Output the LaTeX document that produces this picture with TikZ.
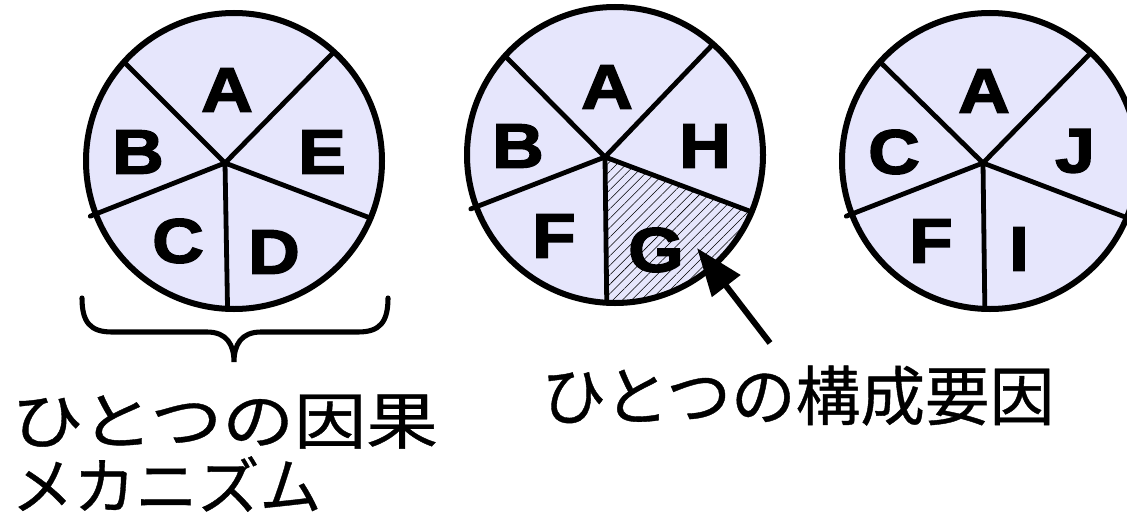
\documentclass[tikz,border=0pt]{standalone}
\usepackage{fontspec}
\usetikzlibrary{calc,arrows.meta,patterns.meta}

\newfontfamily\piefont{Liberation Sans}[FakeStretch=1.14,FakeBold=2.5]
\newfontfamily\jpfont{Noto Sans CJK JP}[FakeBold=0.6]
\newfontfamily\jpwidefont{Noto Sans CJK JP}[FakeStretch=1.16,FakeBold=0.6]
\definecolor{piefill}{RGB}{230,230,252}

\tikzset{every picture/.style={line width=0.75pt}}
\tikzset{
	rim/.style={line width=4.5pt},
	spoke/.style={line width=3.6pt, line cap=round},
	brace/.style={line width=3.8pt, line cap=round},
	pointer/.style={line width=4.5pt, -{Triangle[length=36pt,width=26pt]}},
	pielabel/.style={inner sep=0pt, font=\piefont\bfseries\fontsize{47}{47}\selectfont},
	causetext/.style={inner sep=0pt, align=left, font=\jpwidefont\fontsize{46.5}{49}\selectfont},
	parttext/.style={inner sep=0pt, font=\jpfont\fontsize{48.5}{50}\selectfont}
}

\begin{document}
\begin{tikzpicture}[x=0.75pt,y=0.75pt,yscale=-1,xscale=1]
	\useasboundingbox (0,0) rectangle (1127,517);
	\clip (0,0) rectangle (1127,517);

	\coordinate (c1) at (234,161);
	\coordinate (h1) at (225,163);
	\coordinate (c2) at (615,155);
	\coordinate (h2) at (605,157);
	\coordinate (c3) at (990,161);
	\coordinate (h3) at (983,163);

	\fill[piefill] (c1) circle (148);
	\fill[piefill] (c2) circle (148);
	\fill[piefill] (c3) circle (148);

	\fill[pattern={Lines[angle=45,distance=5pt,line width=0.4pt]}] (h2) -- ($(c2)+(22.6:148)$) arc[start angle=22.6, end angle=93.2, radius=148] -- cycle;

	\draw[spoke] (h1) -- ($(c1)+(-138:148)$) (h1) -- ($(c1)+(-47.5:148)$) (h1) -- ($(c1)+(22.7:148)$) (h1) -- ($(c1)+(92.5:148)$) (h1) -- ($(c1)+(159:154)$);
	\draw[spoke] (h2) -- ($(c2)+(-138:148)$) (h2) -- ($(c2)+(-48.5:148)$) (h2) -- ($(c2)+(22.6:148)$) (h2) -- ($(c2)+(93.2:148)$) (h2) -- ($(c2)+(159.5:154)$);
	\draw[spoke] (h3) -- ($(c3)+(-138:148)$) (h3) -- ($(c3)+(-47:148)$) (h3) -- ($(c3)+(22.5:148)$) (h3) -- ($(c3)+(92:148)$) (h3) -- ($(c3)+(159:154)$);

	\draw[rim] (c1) circle (148);
	\draw[rim] (c2) circle (148);
	\draw[rim] (c3) circle (148);

	\node[pielabel] (a1) at (227,90) {A};
	\node[pielabel] (b1) at (138,152) {B};
	\node[pielabel] (e1) at (322,152) {E};
	\node[pielabel] (c1l) at (178,241) {C};
	\node[pielabel] (d1) at (274,252) {D};

	\node[pielabel] (a2) at (607,87) {A};
	\node[pielabel] (b2) at (518,146) {B};
	\node[pielabel] (h2l) at (705,146) {H};
	\node[pielabel] (f2) at (554,236) {F};
	\node[pielabel] (g2) at (656,250) {G};

	\node[pielabel] (a3) at (984,91) {A};
	\node[pielabel] (c3l) at (894,152) {C};
	\node[pielabel] (j3) at (1075,151) {J};
	\node[pielabel] (f3) at (931,241) {F};
	\node[pielabel] (i3) at (1019,249) {I};

	\draw[brace] (82,298) .. controls (82,322) and (90,332) .. (112,332) -- (207,332) .. controls (227,332) and (234,345) .. (234,362) .. controls (234,345) and (241,332) .. (261,332) -- (358,332) .. controls (380,332) and (388,322) .. (388,298);

	\coordinate (gtip) at (697,248);
	\coordinate (gtail) at (770,343);
	\draw[pointer] (gtail) -- (gtip);

	\node[causetext, anchor=base west] (mechanism) at (11,509) {ひとつの因果\\{\jpfont メカニズム}};

	\node[parttext, anchor=base west] (component) at (541,420) {ひとつの構成要因};
\end{tikzpicture}
\end{document}
